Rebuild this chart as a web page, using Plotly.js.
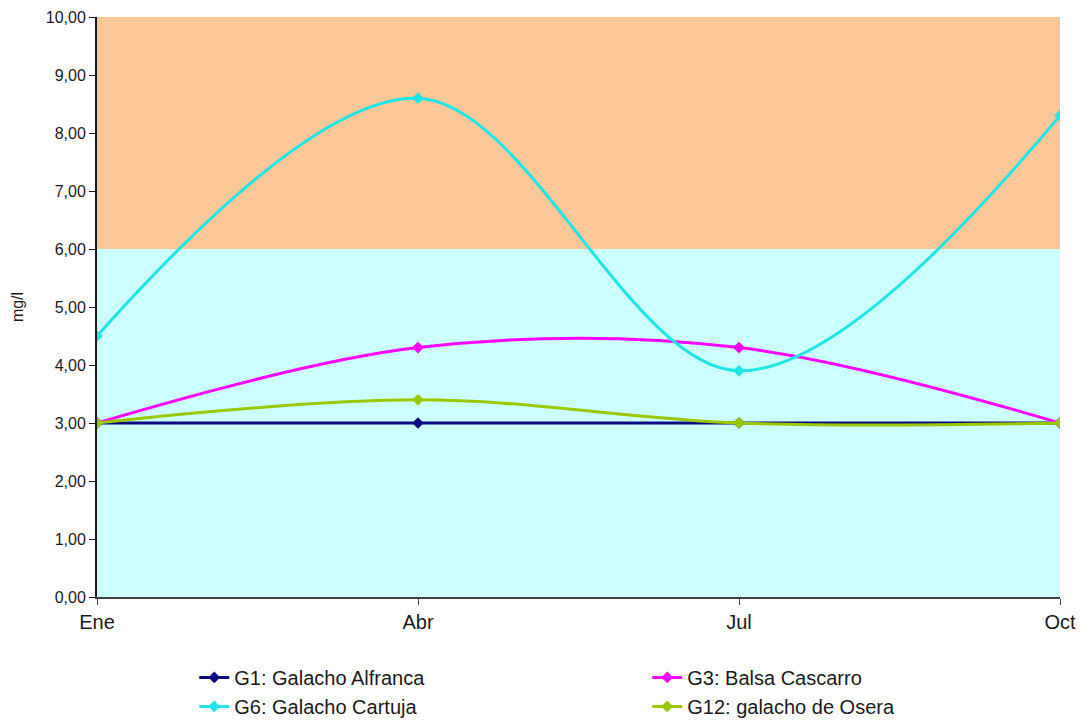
<!DOCTYPE html>
<html>
<head>
<meta charset="utf-8">
<script src="https://cdn.plot.ly/plotly-3.0.1.min.js"></script>
<style>html,body{margin:0;padding:0;background:#fff;}#chart{width:1084px;height:724px;}</style>
</head>
<body>
<div id="chart"></div>
<script>
const months = ["Ene", "Abr", "Jul", "Oct"];
const g1 = [3.0, 3.0, 3.0, 3.0];
const g3 = [3.0, 4.3, 4.3, 3.0];
const g6 = [4.5, 8.6, 3.9, 8.3];
const g12 = [3.0, 3.4, 3.0, 3.0];
const seriesNames = ["G1: Galacho Alfranca", "G3: Balsa Cascarro", "G6: Galacho Cartuja", "G12: galacho de Osera"];
const seriesColors = ["#0a0a80", "#ff00ff", "#1ee6e6", "#99c800"];
const bandLimits = [0, 6, 10];

const xIdx = months.map((m, i) => i);
const data = [g1, g3, g6, g12].map((vals, k) => ({
  x: xIdx, y: vals, name: seriesNames[k], type: 'scatter', mode: 'lines+markers',
  line: {color: seriesColors[k], width: 3, shape: 'spline', smoothing: 1},
  marker: {symbol: 'diamond', size: 9, color: seriesColors[k]},
  hoverinfo: 'y'
}));
const layout = {
  width: 1084, height: 724,
  margin: {l: 97, r: 24, t: 17, b: 127, autoexpand: false},
  paper_bgcolor: '#ffffff', plot_bgcolor: '#ffffff',
  separators: ',.',
  font: {family: 'Liberation Sans, Arial, sans-serif', color: '#1a1a1a'},
  showlegend: true,
  legend: {orientation: 'h', x: 0.101, xanchor: 'left', y: -0.105, yanchor: 'top',
    entrywidth: 408, entrywidthmode: 'pixels', font: {size: 20, color: '#1a1a1a'},
    bgcolor: 'rgba(0,0,0,0)', tracegroupgap: 0},
  xaxis: {range: [0, 3], tickvals: xIdx, ticktext: months, showgrid: false, zeroline: false,
    showline: true, linecolor: '#404040', linewidth: 2, ticks: 'outside', ticklen: 6, tickcolor: '#404040',
    tickfont: {size: 20, color: '#1a1a1a'}, fixedrange: true},
  yaxis: {range: [0, 10], dtick: 1, tickformat: '.2f', showgrid: false, zeroline: false,
    showline: true, linecolor: '#1a1a1a', linewidth: 2, ticks: 'outside', ticklen: 6, tickcolor: '#1a1a1a',
    tickfont: {size: 16, color: '#1a1a1a'},
    title: {text: 'mg/l', font: {size: 16, color: '#1a1a1a'}, standoff: 18}},
  shapes: [
    {type: 'rect', xref: 'paper', yref: 'y', x0: 0, x1: 1, y0: bandLimits[0], y1: bandLimits[1],
      fillcolor: '#ccffff', line: {width: 0}, layer: 'below'},
    {type: 'rect', xref: 'paper', yref: 'y', x0: 0, x1: 1, y0: bandLimits[1], y1: bandLimits[2],
      fillcolor: '#fcc898', line: {width: 0}, layer: 'below'}
  ]
};
Plotly.newPlot('chart', data, layout, {displayModeBar: false, responsive: false});
</script>
</body>
</html>
